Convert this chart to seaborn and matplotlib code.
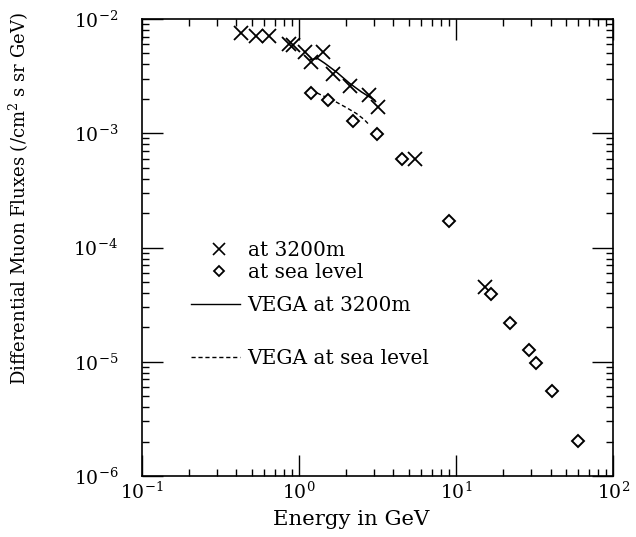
import numpy as np
import pandas as pd
import matplotlib
matplotlib.use("Agg")
import matplotlib.pyplot as plt
from matplotlib.lines import Line2D
import seaborn as sns

# measured points at 3200 m (crosses)
e_3200 = [0.425, 0.536, 0.641, 0.864, 0.916, 1.09, 1.20, 1.42, 1.66, 2.12, 2.79, 3.18, 5.52, 15.3]
f_3200 = [7.6e-3, 7.1e-3, 7.1e-3, 6.1e-3, 5.9e-3, 5.1e-3, 4.2e-3, 5.1e-3, 3.3e-3, 2.6e-3, 2.16e-3, 1.69e-3, 5.9e-4, 4.5e-5]

# measured points at sea level (diamonds)
e_sea = [1.19, 1.53, 2.20, 3.13, 4.50, 9.08, 16.6, 22.1, 29.3, 32.5, 40.8, 59.4]
f_sea = [2.26e-3, 1.95e-3, 1.28e-3, 9.8e-4, 5.9e-4, 1.72e-4, 3.9e-5, 2.17e-5, 1.28e-5, 9.8e-6, 5.6e-6, 2.04e-6]

# VEGA curves
e_vega_3200 = [1.18, 1.32, 1.46, 1.75, 2.10, 2.50, 3.03]
f_vega_3200 = [4.43e-3, 4.5e-3, 4.1e-3, 3.4e-3, 2.74e-3, 2.3e-3, 1.95e-3]
e_vega_sea = [1.19, 1.40, 1.64, 2.00, 2.32, 2.60, 2.81]
f_vega_sea = [2.39e-3, 2.15e-3, 1.95e-3, 1.68e-3, 1.49e-3, 1.32e-3, 1.18e-3]

plt.rcParams["font.family"] = ["DejaVu Serif"]
plt.rcParams["mathtext.fontset"] = "dejavuserif"

fig = plt.figure(figsize=(6.36, 5.37), dpi=100)
ax = fig.add_axes([0.223, 0.1136, 0.741, 0.851])

d3200 = pd.DataFrame({"E": e_3200, "F": f_3200})
dsea = pd.DataFrame({"E": e_sea, "F": f_sea})
v3200 = pd.DataFrame({"E": e_vega_3200, "F": f_vega_3200})
vsea = pd.DataFrame({"E": e_vega_sea, "F": f_vega_sea})

sns.lineplot(data=v3200, x="E", y="F", ax=ax, color="black", lw=1.1)
sns.lineplot(data=vsea, x="E", y="F", ax=ax, color="black", lw=1.0, linestyle=(0, (3, 2)))
ax.plot(d3200["E"], d3200["F"], ls="none", marker="x", ms=10, mew=1.3, color="black")
ax.plot(dsea["E"], dsea["F"], ls="none", marker="D", ms=6, mew=1.4, mfc="white", mec="black")

ax.set_xscale("log")
ax.set_yscale("log")
ax.set_xlim(0.1, 100)
ax.set_ylim(1e-6, 1e-2)

for s in ax.spines.values():
    s.set_linewidth(1.2)
ax.tick_params(which="both", direction="in", top=True, right=True, width=1.0, labelsize=13.5)
ax.tick_params(which="major", length=15)
ax.tick_params(which="minor", length=5)
ax.tick_params(axis="y", which="both", pad=17)
ax.tick_params(axis="x", which="both", pad=4)

ax.set_xlabel("Energy in GeV", fontsize=15.3)
ax.xaxis.set_label_coords(0.445, -0.075)
ax.set_ylabel(r"Differential Muon Fluxes (/cm$^2$ s sr GeV)", fontsize=13)
ax.yaxis.set_label_coords(-0.235, 0.608)

# legends
fs = 14.5
h1 = [Line2D([], [], ls="none", marker="x", ms=8, mew=1.2, color="black"),
      Line2D([], [], ls="none", marker="D", ms=5, mew=1.3, mfc="white", mec="black")]
leg1 = ax.legend(h1, ["at 3200m", "at sea level"], loc="center left", bbox_to_anchor=(0.119, 0.4695),
                 frameon=False, fontsize=fs, handlelength=1.09, handletextpad=0.9, labelspacing=0.12, borderpad=0)
ax.add_artist(leg1)
leg2 = ax.legend([Line2D([], [], color="black", lw=1.0)], ["VEGA at 3200m"], loc="center left",
                 bbox_to_anchor=(0.084, 0.374), frameon=False, fontsize=fs, handlelength=2.42,
                 handletextpad=0.36, borderpad=0)
ax.add_artist(leg2)
ax.legend([Line2D([], [], color="black", lw=1.0, ls=(0, (3, 2)))], ["VEGA at sea level"], loc="center left",
          bbox_to_anchor=(0.084, 0.258), frameon=False, fontsize=fs, handlelength=2.42,
          handletextpad=0.36, borderpad=0)

fig.savefig("out.png", dpi=100)
